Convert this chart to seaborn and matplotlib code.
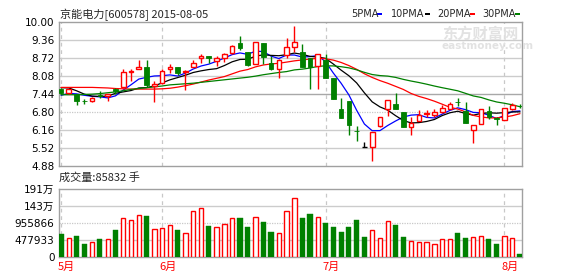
import numpy as np
import pandas as pd
import matplotlib
matplotlib.use("Agg")
import matplotlib.pyplot as plt
import seaborn as sns
from matplotlib.patches import Rectangle
from matplotlib.transforms import blended_transform_factory

sns.set_style("white")
plt.rcParams['font.family'] = ['DejaVu Sans', 'Noto Sans CJK SC']

# ---------------- data ----------------
opens = [7.62, 7.45, 7.42, 7.17, 7.16, 7.38, 7.35, 7.60, 7.68, 8.22,
         8.32, 8.37, 7.72, 7.80, 8.32, 8.38, 8.19, 8.39, 8.71, 8.77,
         8.58, 8.69, 8.89, 9.23, 8.90, 8.50, 9.22, 8.51, 8.31, 8.82,
         9.08, 8.90, 8.69, 8.43, 8.65, 7.98, 6.89, 7.17, 6.11, 5.55,
         5.55, 6.30, 6.91, 7.07, 6.78, 6.26, 6.48, 6.72, 6.68, 6.80,
         6.91, 7.15, 6.82, 6.15, 6.35, 6.82, 6.59, 6.50, 6.88, 7.01]
highs = [7.64, 7.62, 7.44, 7.25, 7.31, 7.53, 7.44, 7.64, 8.33, 8.33,
         8.65, 8.65, 7.90, 8.31, 8.50, 8.40, 8.28, 8.65, 8.86, 8.79,
         8.77, 8.87, 9.17, 9.48, 8.93, 9.26, 9.23, 8.78, 8.66, 9.40,
         9.83, 9.20, 8.72, 8.85, 8.83, 7.98, 7.27, 7.17, 6.29, 5.73,
         6.06, 6.62, 7.23, 7.45, 6.80, 6.61, 6.85, 6.85, 6.88, 7.03,
         7.13, 7.29, 7.15, 6.31, 6.88, 7.00, 6.60, 6.94, 7.09, 7.08]
lows = [7.44, 7.42, 7.04, 7.06, 7.13, 7.30, 7.19, 7.44, 7.65, 7.90,
        8.30, 7.68, 7.13, 7.77, 8.16, 8.10, 7.58, 8.37, 8.51, 8.53,
        8.42, 8.57, 8.86, 8.98, 8.42, 8.50, 8.49, 8.27, 7.98, 8.72,
        8.92, 8.39, 7.59, 7.61, 8.00, 7.25, 6.58, 5.97, 5.77, 5.55,
        5.06, 6.27, 6.66, 6.89, 6.26, 5.96, 6.47, 6.61, 6.62, 6.74,
        6.88, 7.01, 6.41, 5.70, 6.35, 6.53, 6.33, 6.50, 6.85, 6.92]
closes = [7.47, 7.60, 7.19, 7.16, 7.30, 7.37, 7.42, 7.55, 8.19, 8.24,
          8.38, 7.73, 7.79, 8.24, 8.38, 8.18, 8.25, 8.52, 8.77, 8.71,
          8.69, 8.83, 9.12, 9.07, 8.46, 9.26, 8.75, 8.31, 8.65, 9.08,
          9.26, 8.39, 8.39, 8.83, 8.00, 7.25, 6.58, 6.32, 6.10, 5.55,
          6.06, 6.60, 7.23, 6.89, 6.26, 6.40, 6.68, 6.74, 6.80, 6.94,
          7.06, 7.14, 6.41, 6.31, 6.88, 6.62, 6.55, 6.94, 7.02, 7.00]
volumes = [656000, 534000, 600000, 375000, 431000, 515000, 506000, 768000, 1096000, 1040000,
           1181000, 1162000, 787000, 815000, 900000, 768000, 675000, 1293000, 1378000, 881000,
           843000, 937000, 1096000, 1106000, 853000, 1125000, 993000, 712000, 684000, 1293000,
           1659000, 1106000, 1218000, 1125000, 965000, 853000, 712000, 853000, 1050000, 562000,
           759000, 534000, 1012000, 909000, 572000, 459000, 422000, 422000, 365000, 506000,
           506000, 684000, 544000, 562000, 590000, 515000, 375000, 590000, 534000, 85832]

# moving-average values before each window is full
ma5_head = [7.38, 7.45, 7.43, 7.38]
ma10_head = [7.65, 7.64, 7.54, 7.42, 7.35, 7.34, 7.35, 7.45, 7.50]
ma20_head = [7.66, 7.66, 7.66, 7.66, 7.66, 7.65, 7.64, 7.62, 7.61, 7.60,
             7.60, 7.60, 7.60, 7.61, 7.63, 7.67, 7.72, 7.78, 7.85]
ma30_head = [7.40, 7.40, 7.40, 7.41, 7.42, 7.44, 7.47, 7.50, 7.54, 7.59,
             7.62, 7.65, 7.68, 7.71, 7.75, 7.77, 7.79, 7.81, 7.84, 7.87,
             7.90, 7.93, 7.96, 7.99, 8.02, 8.06, 8.11, 8.15, 8.19]

month_idx = [0, 13, 34, 57]
month_labels = ["5月", "6月", "7月", "8月"]
price_ticks = [4.88, 5.52, 6.16, 6.80, 7.44, 8.08, 8.72, 9.36, 10.00]
vol_ticks = [0, 477933, 955866, 1433799, 1911732]
vol_tick_labels = ["0", "477933", "955866", "143万", "191万"]
title_text = "京能电力[600578] 2015-08-05"
vol_text = "成交量:85832 手"
legend_names = ["5PMA", "10PMA", "20PMA", "30PMA"]

RED = "#ff0000"
GREEN = "#008000"
BLUE = "#0000ff"
BLACK = "#000000"
GRID = "#cccccc"
FRAME = "#a0a0a0"

n = len(closes)
idx = np.arange(n)


def moving_avg(head, w):
    s = pd.Series(closes).rolling(w).mean().to_numpy()
    s[:len(head)] = head
    return s


ma_df = pd.DataFrame({
    "i": np.tile(idx, 4),
    "value": np.concatenate([moving_avg(ma5_head, 5), moving_avg(ma10_head, 10),
                             moving_avg(ma20_head, 20), moving_avg(ma30_head, 30)]),
    "series": np.repeat(legend_names, n),
})
palette = {"5PMA": BLUE, "10PMA": BLACK, "20PMA": RED, "30PMA": GREEN}

W, H = 578, 276
fig = plt.figure(figsize=(W / 100, H / 100), dpi=100)
fig.patch.set_facecolor("white")


def fx(px):
    return px / W


def fy(py):
    return 1 - py / H


ax1 = fig.add_axes([fx(58.7), fy(165.7), fx(522) - fx(58.7), fy(21.5) - fy(165.7)])
ax2 = fig.add_axes([fx(58.7), fy(257.3), fx(522) - fx(58.7), fy(189.3) - fy(257.3)])

xlim = (-0.3, n - 1 + 0.26)
for ax in (ax1, ax2):
    ax.set_xlim(*xlim)
    ax.set_facecolor("white")
    for sp in ax.spines.values():
        sp.set_color(FRAME)
        sp.set_linewidth(1.0)
    ax.tick_params(length=0, pad=3, labelsize=7.5, colors="black")
    ax.set_xticks([])
    ax.set_xlabel("")
    ax.set_ylabel("")
    for m in month_idx:
        ax.axvline(m, color="#c8c8c8", lw=0.9, ls=(0, (3, 3)), zorder=1)

# ---------------- price panel ----------------
ax1.set_ylim(price_ticks[0], price_ticks[-1])
for k, lv in enumerate(price_ticks[1:-1], start=1):
    if k == 3:
        ax1.axhline(lv, color="#c8c8c8", lw=0.9, ls=(0, (1, 1)), zorder=1)
    elif k == 4:
        ax1.axhline(lv, color="#a8a8a8", lw=1.0, zorder=1)
    else:
        ax1.axhline(lv, color=GRID, lw=1.0, zorder=1)
ax1.set_yticks(price_ticks)
ax1.set_yticklabels([f"{v:.2f}" for v in price_ticks])

sns.lineplot(data=ma_df, x="i", y="value", hue="series", palette=palette,
             linewidth=0.9, legend=False, ax=ax1, zorder=2)
ax1.set_xlabel("")
ax1.set_ylabel("")
ax1.set_xticks([])

bw = 0.6
for i in range(n):
    o, h, l, c = opens[i], highs[i], lows[i], closes[i]
    lo_b, hi_b = min(o, c), max(o, c)
    if c > o:
        ax1.vlines(i, hi_b, h, color=RED, lw=1.0, zorder=3)
        ax1.vlines(i, l, lo_b, color=RED, lw=1.0, zorder=3)
        ax1.add_patch(Rectangle((i - bw / 2, lo_b), bw, max(hi_b - lo_b, 0.01),
                                facecolor="white", edgecolor=RED, lw=1.0, zorder=4))
    elif c < o:
        ax1.vlines(i, l, h, color=GREEN, lw=1.0, zorder=3)
        ax1.add_patch(Rectangle((i - bw / 2, lo_b), bw, max(hi_b - lo_b, 0.012),
                                facecolor=GREEN, edgecolor=GREEN, lw=0.6, zorder=4))
    else:
        ax1.vlines(i, l, h, color=BLACK, lw=1.0, zorder=3)
        ax1.hlines(c, i - bw / 2, i + bw / 2, color=BLACK, lw=1.0, zorder=4)

# watermark
fig.text(fx(442), fy(34), "东方财富网", fontsize=11, color="#e2e2e2", fontweight="bold",
         family=["Noto Sans CJK SC"], ha="left", va="center", zorder=0)
fig.text(fx(442), fy(46), "eastmoney.com", fontsize=7.5, color="#e2e2e2", fontweight="bold",
         ha="left", va="center", zorder=0)

# ---------------- volume panel ----------------
ax2.set_ylim(vol_ticks[0], vol_ticks[-1])
for k, lv in enumerate(vol_ticks[1:-1], start=1):
    if k == 2:
        ax2.axhline(lv, color="#c8c8c8", lw=0.9, ls=(0, (1, 1)), zorder=1)
    else:
        ax2.axhline(lv, color=GRID, lw=1.0, zorder=1)
ax2.set_yticks(vol_ticks)
ax2.set_yticklabels(vol_tick_labels)

up = [closes[i] > opens[i] for i in range(n)]
red_i = [i for i in range(n) if up[i]]
grn_i = [i for i in range(n) if not up[i]]
ax2.bar(grn_i, [volumes[i] for i in grn_i], width=0.66, color=GREEN, edgecolor=GREEN,
        lw=0.3, zorder=3)
ax2.bar(red_i, [volumes[i] for i in red_i], width=0.56, facecolor="white", edgecolor=RED,
        lw=1.0, zorder=3)

tr = blended_transform_factory(ax2.transData, ax2.transAxes)
for m, lab in zip(month_idx, month_labels):
    ax2.text(m - 0.4, -0.145, lab, transform=tr, color=RED, fontsize=8,
             family=["Noto Sans CJK SC"], ha="left", va="center")

# ---------------- header texts ----------------
fig.text(fx(60), fy(14.5), title_text, fontsize=8, ha="left", va="center",
         family=["Noto Sans CJK SC", "DejaVu Sans"])
fig.text(fx(59), fy(177.5), vol_text, fontsize=8, ha="left", va="center",
         family=["Noto Sans CJK SC", "DejaVu Sans"])

leg_x = [351, 391, 437, 482]
sq_x = [377, 425, 470, 514.5]
for name, tx, sx in zip(legend_names, leg_x, sq_x):
    fig.text(fx(tx), fy(14.2), name, fontsize=7, ha="left", va="center")
    fig.add_artist(Rectangle((fx(sx), fy(15.3)), fx(5.3), fy(12.7) - fy(15.3),
                             transform=fig.transFigure, facecolor=palette[name],
                             edgecolor="none"))

fig.savefig("out.png", dpi=100, facecolor="white")
